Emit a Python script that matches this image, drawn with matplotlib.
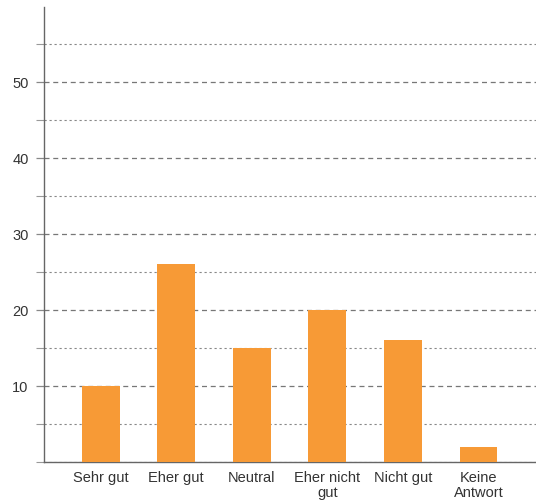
import matplotlib
matplotlib.use("Agg")
import matplotlib.pyplot as plt
from matplotlib.ticker import MultipleLocator

categories = ["Sehr gut", "Eher gut", "Neutral", "Eher nicht\ngut", "Nicht gut", "Keine\nAntwort"]
values = [10, 26, 15, 20, 16, 2]

plt.rcParams["font.family"] = ["Liberation Sans", "DejaVu Sans"]

fig = plt.figure(figsize=(5.36, 5.02), dpi=100)
ax = fig.add_axes([0.082, 0.078, 0.918, 0.906])

x = range(len(categories))
ax.bar(x, values, width=0.5, color="#F79A36", zorder=3)

ax.set_xlim(-0.75, 5.76)
ax.set_ylim(0, 59.8)
ax.yaxis.set_minor_locator(MultipleLocator(5))
ax.set_yticks([10, 20, 30, 40, 50])
ax.set_yticklabels(["10", "20", "30", "40", "50"])

ax.grid(axis="y", which="major", color="#777777", linestyle=(0, (4, 3)), linewidth=0.9, zorder=0)
ax.grid(axis="y", which="minor", color="#888888", linestyle=(0, (2, 2.5)), linewidth=0.8, zorder=0)

ax.set_xticks(list(x))
ax.set_xticklabels(categories, fontsize=10.5, color="#333333", linespacing=1.05)
ax.tick_params(axis="x", length=0, pad=6)
ax.tick_params(axis="y", which="major", length=6, color="#888888", labelsize=10.5,
               labelcolor="#333333", pad=5, width=0.9)
ax.tick_params(axis="y", which="minor", length=6, color="#999999", width=0.8)

for s in ["top", "right"]:
    ax.spines[s].set_visible(False)
for s in ["left", "bottom"]:
    ax.spines[s].set_color("#666666")
    ax.spines[s].set_linewidth(1.0)

fig.savefig("out.png", dpi=100)
